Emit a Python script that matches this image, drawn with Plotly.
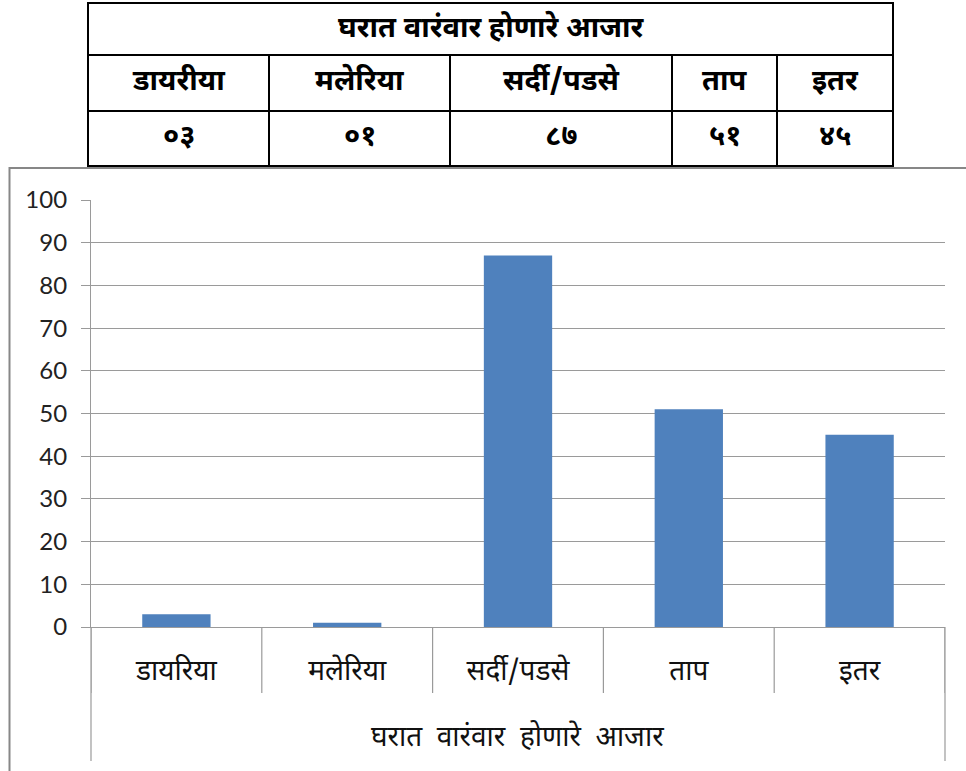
import plotly.graph_objects as go

# Survey results: frequently occurring illnesses at home
title_text = "घरात वारंवार होणारे आजार"
table_headers = ["डायरीया", "मलेरिया", "सर्दी/पडसे", "ताप", "इतर"]
categories = ["डायरिया", "मलेरिया", "सर्दी/पडसे", "ताप", "इतर"]
counts = [3, 1, 87, 51, 45]
y_ticks = [0, 10, 20, 30, 40, 50, 60, 70, 80, 90, 100]

W, H = 966, 771
# plot area in pixels
PL, PR, PT, PB = 91, 945, 200, 627
PW, PH = PR - PL, PB - PT

DEV_FONT = "Noto Sans Devanagari, Lohit Devanagari, Mangal, Noto Sans, sans-serif"
NUM_FONT = "Lato, Liberation Sans, sans-serif"
GRID = "#9a9a9a"


def px_x(x):
    return (x - PL) / PW


def px_y(y):
    return (PB - y) / PH


def to_devanagari(n):
    digits = "०१२३४५६७८९"
    return "".join(digits[int(c)] for c in f"{n:02d}")


fig = go.Figure(
    go.Bar(
        x=categories,
        y=counts,
        width=0.4,
        marker=dict(color="#4F81BD", line=dict(width=0)),
        hoverinfo="x+y",
    )
)

shapes = []
annotations = []

# category dividers below the axis
for i in range(len(categories) + 1):
    shapes.append(dict(type="line", xref="x", yref="paper",
                       x0=i - 0.5, x1=i - 0.5, y0=0, y1=px_y(693),
                       line=dict(color=GRID, width=1.2)))
# axis extensions bounding the axis title
for xp in (PL, PR):
    shapes.append(dict(type="line", xref="paper", yref="paper",
                       x0=px_x(xp), x1=px_x(xp), y0=0, y1=px_y(761),
                       line=dict(color=GRID, width=1.2)))

annotations.append(dict(text=title_text.replace(" ", "&nbsp; "), xref="paper", yref="paper",
                        x=px_x(517), y=px_y(738), showarrow=False,
                        font=dict(family=DEV_FONT, size=28, color="#111"),
                        xanchor="center", yanchor="middle"))

# chart frame
shapes.append(dict(type="rect", xref="paper", yref="paper",
                   x0=px_x(9.5), x1=px_x(975), y0=px_y(168), y1=px_y(790),
                   line=dict(color="#878787", width=2), layer="below"))

# summary table above the chart
col_edges = [88, 269, 450, 672, 777, 893]
row_edges = [3, 55, 111, 166]
TL = dict(color="black", width=2)
shapes.append(dict(type="rect", xref="paper", yref="paper",
                   x0=px_x(col_edges[0]), x1=px_x(col_edges[-1]),
                   y0=px_y(row_edges[0]), y1=px_y(row_edges[-1]), line=TL))
for ry in row_edges[1:-1]:
    shapes.append(dict(type="line", xref="paper", yref="paper",
                       x0=px_x(col_edges[0]), x1=px_x(col_edges[-1]),
                       y0=px_y(ry), y1=px_y(ry), line=TL))
for cx in col_edges[1:-1]:
    shapes.append(dict(type="line", xref="paper", yref="paper",
                       x0=px_x(cx), x1=px_x(cx),
                       y0=px_y(row_edges[1]), y1=px_y(row_edges[-1]), line=TL))

cell_font = dict(family=DEV_FONT, size=29, color="black")
annotations.append(dict(text=f"<b>{title_text}</b>", xref="paper", yref="paper",
                        x=px_x((col_edges[0] + col_edges[-1]) / 2),
                        y=px_y((row_edges[0] + row_edges[1]) / 2),
                        showarrow=False, font=cell_font,
                        xanchor="center", yanchor="middle"))
for i, (hdr, val) in enumerate(zip(table_headers, counts)):
    cx = (col_edges[i] + col_edges[i + 1]) / 2
    annotations.append(dict(text=f"<b>{hdr}</b>", xref="paper", yref="paper",
                            x=px_x(cx), y=px_y((row_edges[1] + row_edges[2]) / 2),
                            showarrow=False, font=cell_font,
                            xanchor="center", yanchor="middle"))
    annotations.append(dict(text=f"<b>{to_devanagari(val)}</b>", xref="paper", yref="paper",
                            x=px_x(cx), y=px_y((row_edges[2] + row_edges[3]) / 2),
                            showarrow=False, font=cell_font,
                            xanchor="center", yanchor="middle"))

fig.update_layout(
    width=W, height=H,
    margin=dict(l=PL, r=W - PR, t=PT, b=H - PB, pad=0),
    paper_bgcolor="white", plot_bgcolor="white",
    showlegend=False,
    bargap=0.6,
    shapes=shapes,
    annotations=annotations,
    xaxis=dict(
        type="category", range=[-0.5, len(categories) - 0.5],
        showgrid=False, zeroline=False,
        showline=True, linecolor=GRID, linewidth=1.2,
        ticks="", ticklabelstandoff=18,
        tickfont=dict(family=DEV_FONT, size=28, color="#111"),
    ),
    yaxis=dict(
        range=[0, 100], tickvals=y_ticks,
        showgrid=True, gridcolor=GRID, gridwidth=1.2,
        zeroline=False,
        showline=True, linecolor=GRID, linewidth=1.2,
        ticks="outside", ticklen=9, tickcolor=GRID, tickwidth=1.2,
        ticklabelstandoff=9,
        tickfont=dict(family=NUM_FONT, size=24, color="#222"),
    ),
)

fig.write_html("out.html")
